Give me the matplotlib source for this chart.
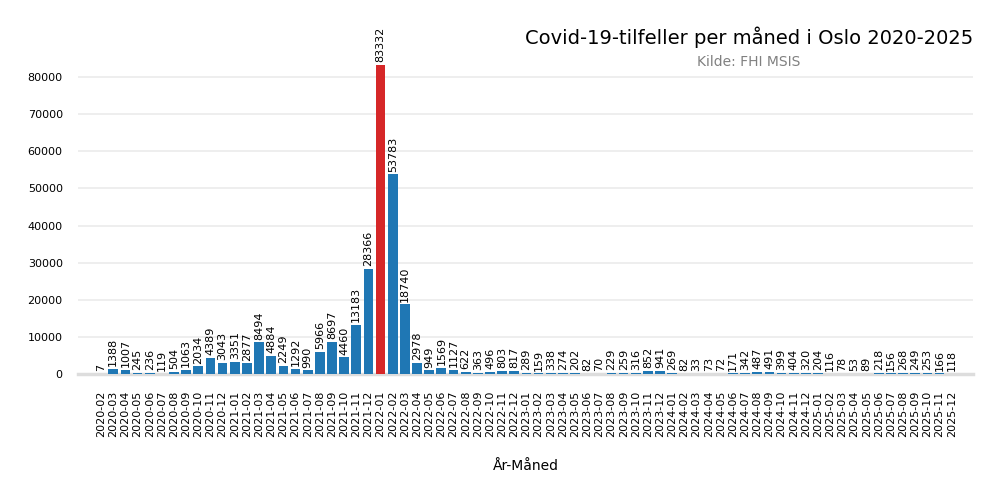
import numpy as np
import matplotlib
matplotlib.use("Agg")
import matplotlib.pyplot as plt

# ── Data ─────────────────────────────────────────────────────
months = (
    [f"2020-{m:02d}" for m in range(2, 13)]
    + [f"{y}-{m:02d}" for y in range(2021, 2026) for m in range(1, 13)]
)
cases_2020 = [7, 1388, 1007, 245, 236, 119, 504, 1063, 2034, 4389, 3043]
cases_2021 = [3351, 2877, 8494, 4884, 2249, 1292, 990, 5966, 8697, 4460, 13183, 28366]
cases_2022 = [83332, 53783, 18740, 2978, 949, 1569, 1127, 622, 363, 496, 803, 817]
cases_2023 = [289, 159, 338, 274, 202, 82, 70, 229, 259, 316, 852, 941]
cases_2024 = [269, 82, 33, 73, 72, 171, 342, 487, 491, 399, 404, 320]
cases_2025 = [204, 116, 78, 53, 89, 218, 156, 268, 249, 253, 166, 118]
cases = cases_2020 + cases_2021 + cases_2022 + cases_2023 + cases_2024 + cases_2025

BLUE = "#1f77b4"
RED = "#d62728"
peak = int(np.argmax(cases))
colors = [RED if i == peak else BLUE for i in range(len(cases))]

# ── Plot ─────────────────────────────────────────────────────
fig = plt.figure(figsize=(10, 5), dpi=100)
ax = fig.add_axes([0.078, 0.252, 0.895, 0.683])

x = np.arange(len(months))
bars = ax.bar(x, cases, width=0.8, color=colors, zorder=3)
ax.bar_label(bars, labels=[str(v) for v in cases], rotation=90,
             padding=2, fontsize=8)

ax.set_xlim(-1.9, len(months) + 0.75)
ax.set_ylim(0, 92000)
ax.set_xticks(x)
ax.set_xticklabels(months, rotation=90, fontsize=8)
ax.set_yticks(np.arange(0, 80001, 10000))
ax.tick_params(axis="y", length=0, pad=11, labelsize=8)
ax.tick_params(axis="x", length=0, pad=12)

ax.grid(axis="y", color="#ebebeb", linewidth=1.2, zorder=0)
for s in ["top", "right", "left"]:
    ax.spines[s].set_visible(False)
ax.spines["bottom"].set_color("#dddddd")
ax.spines["bottom"].set_linewidth(2.5)

ax.set_xlabel("År-Måned", fontsize=10, labelpad=16)

fig.text(0.749, 0.925, "Covid-19-tilfeller per måned i Oslo 2020-2025",
         ha="center", va="center", fontsize=14)
fig.text(0.749, 0.876, "Kilde: FHI MSIS", ha="center", va="center",
         fontsize=10, color="gray")

plt.savefig("out.png", dpi=100)
